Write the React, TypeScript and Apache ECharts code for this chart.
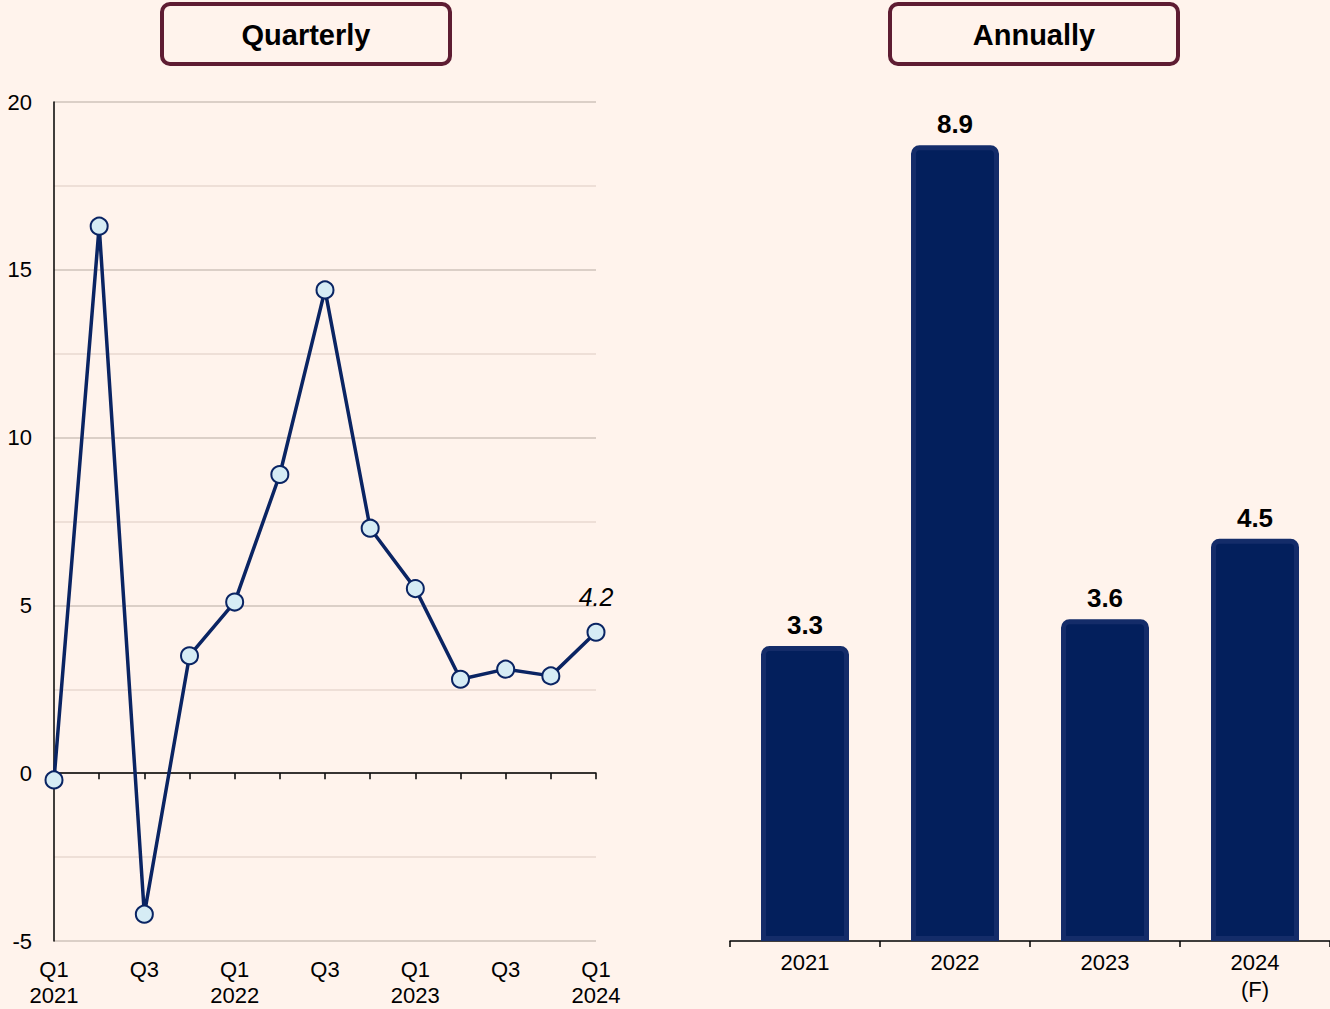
import React, { useEffect, useRef } from "react";
import * as echarts from "echarts";

const quarterLabels = [
  "Q1\n2021", "Q2", "Q3", "Q4",
  "Q1\n2022", "Q2", "Q3", "Q4",
  "Q1\n2023", "Q2", "Q3", "Q4",
  "Q1\n2024",
];
const quarterlyValues = [-0.2, 16.3, -4.2, 3.5, 5.1, 8.9, 14.4, 7.3, 5.5, 2.8, 3.1, 2.9, 4.2];

const annualCategories = ["2021", "2022", "2023", "2024\n(F)"];
const annualValues = [3.3, 8.9, 3.6, 4.5];

const titles = ["Quarterly", "Annually"];

const BG = "#FFF3EC";
const NAVY = "#0A2463";
const FONT = "'Liberation Sans', Arial, sans-serif";

export default function App() {
  const ref = useRef<HTMLDivElement>(null);
  useEffect(() => {
    if (!ref.current) return;
    const chart = echarts.init(ref.current, null, { renderer: "svg" });
    const lastIdx = quarterlyValues.length - 1;
    chart.setOption({
      animation: false,
      backgroundColor: BG,
      textStyle: { fontFamily: FONT },
      graphic: [
        {
          type: "rect",
          shape: { x: 162, y: 4, width: 288, height: 60, r: 8 },
          style: { fill: BG, stroke: "#5E1C32", lineWidth: 4 },
        },
        {
          type: "text",
          x: 306, y: 35,
          style: { text: titles[0], font: `bold 29px ${FONT}`, fill: "#000", align: "center", verticalAlign: "middle" },
        },
        {
          type: "rect",
          shape: { x: 890, y: 4, width: 288, height: 60, r: 8 },
          style: { fill: BG, stroke: "#5E1C32", lineWidth: 4 },
        },
        {
          type: "text",
          x: 1034, y: 35,
          style: { text: titles[1], font: `bold 29px ${FONT}`, fill: "#000", align: "center", verticalAlign: "middle" },
        },
      ],
      grid: [
        { left: 54, top: 102, width: 542, height: 839, containLabel: false },
        { left: 730, top: 47, width: 600, height: 894, containLabel: false },
      ],
      xAxis: [
        {
          type: "category",
          gridIndex: 0,
          data: quarterLabels,
          boundaryGap: false,
          position: "bottom",
          axisLine: { show: false, onZero: false },
          axisTick: { show: false },
          axisLabel: {
            interval: 1,
            color: "#000",
            fontSize: 22,
            fontFamily: FONT,
            lineHeight: 26,
            margin: 15,
          },
          splitLine: { show: false },
        },
        {
          type: "category",
          gridIndex: 0,
          data: quarterLabels,
          boundaryGap: false,
          position: "top",
          axisLine: { show: true, onZero: true, lineStyle: { color: "#000", width: 1.5 } },
          axisTick: { show: true, inside: true, length: 6, interval: 0, lineStyle: { color: "#000", width: 1.5 } },
          axisLabel: { show: false },
          splitLine: { show: false },
        },
        {
          type: "category",
          gridIndex: 1,
          data: annualCategories,
          position: "bottom",
          axisLine: { show: true, lineStyle: { color: "#000", width: 1.5 } },
          axisTick: { show: true, length: 6, lineStyle: { color: "#000", width: 1.5 } },
          axisLabel: {
            color: "#000",
            fontSize: 22,
            fontFamily: FONT,
            lineHeight: 27,
            margin: 8,
          },
        },
      ],
      yAxis: [
        {
          type: "value",
          gridIndex: 0,
          min: -5,
          max: 20,
          interval: 5,
          axisLine: { show: true, lineStyle: { color: "#000", width: 1.5 } },
          axisTick: { show: false },
          axisLabel: { color: "#000", fontSize: 22, fontFamily: FONT, margin: 22 },
          splitLine: { show: true, lineStyle: { color: "#CFC3BB", width: 1.5 } },
          minorTick: { show: false, splitNumber: 2 },
          minorSplitLine: { show: true, lineStyle: { color: "#E8D9D0", width: 1.5 } },
        },
        {
          type: "value",
          gridIndex: 1,
          min: 0,
          max: 10,
          show: false,
          splitLine: { show: false },
        },
      ],
      series: [
        {
          type: "line",
          xAxisIndex: 0,
          yAxisIndex: 0,
          data: quarterlyValues.map((v, i) =>
            i === lastIdx
              ? {
                  value: v,
                  label: {
                    show: true,
                    position: "top",
                    distance: 13,
                    formatter: "{c}",
                    fontSize: 25,
                    fontStyle: "italic",
                    color: "#000",
                    fontFamily: FONT,
                  },
                }
              : v
          ),
          symbol: "circle",
          symbolSize: 17,
          lineStyle: { color: NAVY, width: 3.5 },
          itemStyle: { color: "#D6ECF5", borderColor: NAVY, borderWidth: 2 },
          z: 5,
        },
        {
          type: "bar",
          xAxisIndex: 2,
          yAxisIndex: 1,
          data: annualValues,
          barWidth: 88,
          itemStyle: {
            color: "#031F5C",
            borderColor: "#142C69",
            borderWidth: 5,
            borderRadius: [6, 6, 0, 0],
          },
          label: {
            show: true,
            position: "top",
            distance: 8,
            fontSize: 26,
            fontWeight: "bold",
            color: "#000",
            fontFamily: FONT,
          },
        },
      ],
    });
    return () => chart.dispose();
  }, []);
  return (
    <div
      ref={ref}
      style={{ position: "fixed", left: 0, top: 0, width: 1330, height: 1009, background: BG }}
    />
  );
}
